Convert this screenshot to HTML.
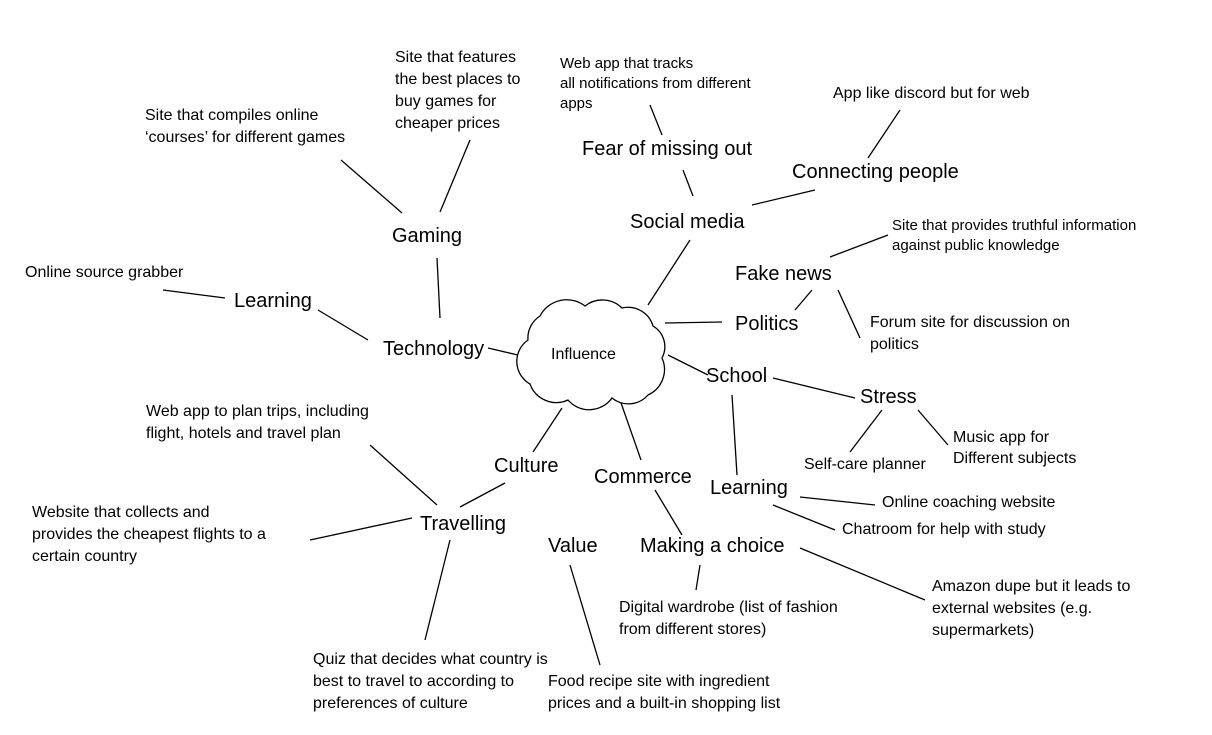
<!DOCTYPE html>
<html><head><meta charset="utf-8"><style>
html,body{margin:0;padding:0;background:#fff}
svg{display:block}
text{font-family:"Liberation Sans",Arial,sans-serif;fill:#000}
.b{font-size:20px}
.s{font-size:16px}
</style></head><body>
<svg width="1212" height="735" viewBox="0 0 1212 735">
<g stroke="#000" stroke-width="1.3" fill="none">
<line x1="440" y1="318" x2="437" y2="258"/>
<line x1="341" y1="160" x2="402" y2="213"/>
<line x1="440" y1="212" x2="470" y2="140"/>
<line x1="368" y1="340" x2="318" y2="310"/>
<line x1="225" y1="298" x2="163" y2="290"/>
<line x1="488" y1="348" x2="522" y2="356"/>
<line x1="648" y1="305" x2="690" y2="240"/>
<line x1="693" y1="196" x2="683" y2="170"/>
<line x1="650" y1="105" x2="662" y2="135"/>
<line x1="752" y1="205" x2="815" y2="190"/>
<line x1="868" y1="158" x2="900" y2="110"/>
<line x1="665" y1="323" x2="722" y2="322"/>
<line x1="795" y1="310" x2="812" y2="290"/>
<line x1="830" y1="257" x2="888" y2="235"/>
<line x1="838" y1="290" x2="860" y2="338"/>
<line x1="668" y1="355" x2="708" y2="375"/>
<line x1="773" y1="378" x2="855" y2="398"/>
<line x1="882" y1="410" x2="850" y2="452"/>
<line x1="918" y1="410" x2="948" y2="445"/>
<line x1="732" y1="395" x2="737" y2="475"/>
<line x1="800" y1="497" x2="875" y2="505"/>
<line x1="773" y1="505" x2="835" y2="530"/>
<line x1="620" y1="400" x2="641" y2="460"/>
<line x1="655" y1="490" x2="682" y2="535"/>
<line x1="700" y1="565" x2="696" y2="590"/>
<line x1="800" y1="548" x2="925" y2="600"/>
<line x1="562" y1="408" x2="533" y2="452"/>
<line x1="505" y1="483" x2="460" y2="507"/>
<line x1="370" y1="445" x2="437" y2="505"/>
<line x1="412" y1="518" x2="310" y2="540"/>
<line x1="450" y1="540" x2="425" y2="640"/>
<line x1="570" y1="565" x2="600" y2="665"/>
</g>
<path d="M 528 340 A 26 26 0 0 1 540 316 A 30 30 0 0 1 585 306 A 28 28 0 0 1 622 308 A 26 26 0 0 1 653 326 A 24 24 0 0 1 662 358 A 28 28 0 0 1 648 395 A 26 26 0 0 1 612 398 A 28 28 0 0 1 568 400 A 28 28 0 0 1 530 384 A 26 26 0 0 1 528 340 Z" fill="#fff" stroke="#000" stroke-width="1.3"/>
<text class="s" x="551" y="359">Influence</text>
<g class="s">
<text x="395" y="62">Site that features</text><text x="395" y="84">the best places to</text><text x="395" y="106">buy games for</text><text x="395" y="128">cheaper prices</text>
<text x="145" y="120">Site that compiles online</text><text x="145" y="142">‘courses’ for different games</text>
<text x="560" y="68" font-size="15">Web app that tracks</text><text x="560" y="88" font-size="15">all notifications from different</text><text x="560" y="108" font-size="15">apps</text>
<text x="833" y="98">App like discord but for web</text>
<text x="892" y="230" font-size="15">Site that provides truthful information</text><text x="892" y="250" font-size="15">against public knowledge</text>
<text x="25" y="277">Online source grabber</text>
<text x="870" y="327">Forum site for discussion on</text><text x="870" y="349">politics</text>
<text x="146" y="416">Web app to plan trips, including</text><text x="146" y="438">flight, hotels and travel plan</text>
<text x="953" y="442">Music app for</text><text x="953" y="463">Different subjects</text>
<text x="804" y="469">Self-care planner</text>
<text x="882" y="507">Online coaching website</text>
<text x="32" y="517">Website that collects and</text><text x="32" y="539">provides the cheapest flights to a</text><text x="32" y="561">certain country</text>
<text x="842" y="534">Chatroom for help with study</text>
<text x="932" y="591">Amazon dupe but it leads to</text><text x="932" y="613">external websites (e.g.</text><text x="932" y="635">supermarkets)</text>
<text x="619" y="612">Digital wardrobe (list of fashion</text><text x="619" y="634">from different stores)</text>
<text x="313" y="664">Quiz that decides what country is</text><text x="313" y="686">best to travel to according to</text><text x="313" y="708">preferences of culture</text>
<text x="548" y="686">Food recipe site with ingredient</text><text x="548" y="708">prices and a built-in shopping list</text>
</g>
<g class="b">
<text x="582" y="155">Fear of missing out</text>
<text x="792" y="178">Connecting people</text>
<text x="630" y="228">Social media</text>
<text x="392" y="242">Gaming</text>
<text x="735" y="280">Fake news</text>
<text x="234" y="307">Learning</text>
<text x="735" y="330">Politics</text>
<text x="383" y="355">Technology</text>
<text x="706" y="382">School</text>
<text x="860" y="403">Stress</text>
<text x="494" y="472">Culture</text>
<text x="594" y="483">Commerce</text>
<text x="710" y="494">Learning</text>
<text x="420" y="530">Travelling</text>
<text x="548" y="552">Value</text>
<text x="640" y="552">Making a choice</text>
</g>
</svg>
</body></html>
